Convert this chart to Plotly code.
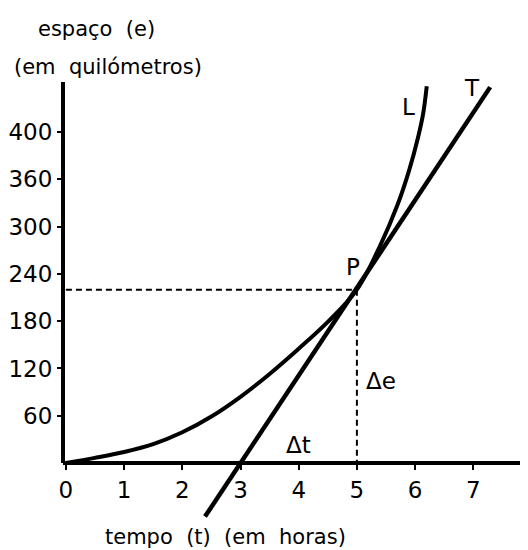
import plotly.graph_objects as go

# ---- data ----
curve_t = [0, 0.5, 1.0, 1.5, 2.0, 2.5, 3.0, 3.5, 4.0, 4.5, 5.0, 5.4, 5.7, 5.9, 6.05, 6.14, 6.2]
curve_e = [0, 6.5, 14, 24, 39, 59, 84, 113, 145, 179, 220, 276, 328, 372, 413, 444, 478]

tangent_t = [2.39, 7.29]
tangent_e = [-68, 477]

point_t = 5.0
point_e = 220

x_ticks = [0, 1, 2, 3, 4, 5, 6, 7]
y_tickvals = [60, 120, 180, 240, 300, 360, 420]
y_ticktext = ["60", "120", "180", "240", "300", "360", "400"]

FONT = "DejaVu Sans"
ymin, ymax = -85, 483.5
xmin, xmax = -0.05, 7.94

# page body has an 8px margin; the figure is sized/offset to compensate
W, H = 520, 542
ML, MT, MR, MB = 55, 74, 0, 20

fig = go.Figure()

# dashed guides from P
fig.add_trace(go.Scatter(x=[0, point_t], y=[point_e, point_e], mode="lines",
                         line=dict(color="black", width=2, dash="6px,4px"), hoverinfo="skip"))
fig.add_trace(go.Scatter(x=[point_t, point_t], y=[point_e, 0], mode="lines",
                         line=dict(color="black", width=2, dash="6px,4px"), hoverinfo="skip"))

# curve L
fig.add_trace(go.Scatter(x=curve_t, y=curve_e, mode="lines",
                         line=dict(color="black", width=4, shape="spline", smoothing=1.0)))
# tangent T
fig.add_trace(go.Scatter(x=tangent_t, y=tangent_e, mode="lines",
                         line=dict(color="black", width=4.5)))

# y-axis line (only above the time axis)
fig.add_shape(type="line", xref="paper", yref="y", x0=0, x1=0, y0=0, y1=ymax,
              line=dict(color="black", width=4))

ann_font = dict(family=FONT, size=23, color="black")
labels = [("L", 5.88, 452), ("T", 6.98, 476), ("P", 4.93, 249),
          ("Δe", 5.41, 104), ("Δt", 3.99, 23)]
for txt, x, y in labels:
    fig.add_annotation(x=x, y=y, text=txt, showarrow=False, font=ann_font,
                       xanchor="center", yanchor="middle")


def px_to_paper(px, py):
    return (px - 63) / 465.0, (530 - py) / 448.0


title_font = dict(family=FONT, size=21, color="black")
for txt, px, py in [("espaço\u00a0 (e)", 96, 29),
                    ("(em\u00a0 quilómetros)", 108, 67),
                    ("tempo\u00a0 (t)\u00a0 (em\u00a0 horas)", 225, 537)]:
    fx, fy = px_to_paper(px, py)
    fig.add_annotation(xref="paper", yref="paper", x=fx, y=fy, text=txt,
                       showarrow=False, font=title_font, xanchor="center", yanchor="middle")

fig.update_layout(
    width=W, height=H,
    margin=dict(l=ML, r=MR, t=MT, b=MB),
    paper_bgcolor="white", plot_bgcolor="white",
    showlegend=False,
    xaxis=dict(range=[xmin, xmax], tickvals=x_ticks, ticktext=[str(v) for v in x_ticks],
               anchor="free", position=(0 - ymin) / (ymax - ymin),
               showline=True, linecolor="black", linewidth=4,
               ticks="outside", ticklen=5, tickwidth=2, tickcolor="black",
               showgrid=False, zeroline=False,
               tickfont=dict(family=FONT, size=23, color="black")),
    yaxis=dict(range=[ymin, ymax], tickvals=y_tickvals, ticktext=y_ticktext,
               showline=False, ticks="outside", ticklen=5, tickwidth=2, tickcolor="black",
               showgrid=False, zeroline=False,
               tickfont=dict(family=FONT, size=23, color="black")),
)

fig.write_html("out.html")
